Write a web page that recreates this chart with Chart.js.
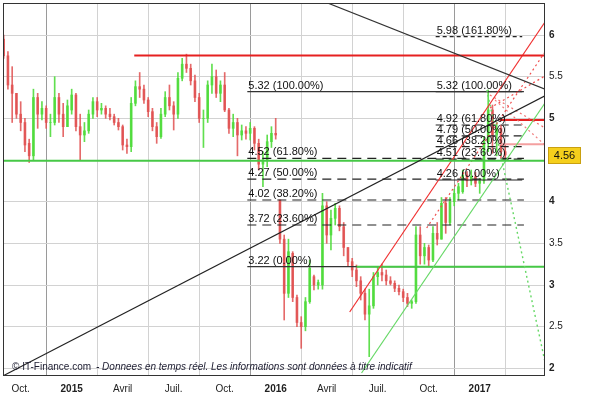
<!DOCTYPE html>
<html>
<head>
<meta charset="utf-8">
<script src="https://cdn.jsdelivr.net/npm/chart.js@4.4.1/dist/chart.umd.min.js"></script>
<style>
html, body { margin: 0; padding: 0; background: #fff; }
#wrap { width: 611px; height: 398px; }
</style>
</head>
<body>
<div id="wrap"><canvas id="chart" width="611" height="398"></canvas></div>
<script>
// x axis is in months counted from Jan 2014 (Oct 2014 = 9, Jan 2017 = 36)
const quarterTicks = [9, 12, 15, 18, 21, 24, 27, 30, 33, 36, 39];
const quarterLabels = ['Oct.', '2015', 'Avril', 'Juil.', 'Oct.', '2016', 'Avril', 'Juil.', 'Oct.', '2017', ''];

// weekly candles [open, high, low, close], first one starts at month 8 (Sep 2014)
const weekStart = 8.0;
const weekStep = 0.25;
const candles = [
    [5.95, 6.00, 5.72, 5.75], [5.75, 5.80, 5.35, 5.40], [5.40, 5.62, 4.95, 5.30], [5.30, 5.30, 5.00, 5.05],
    [5.05, 5.20, 4.85, 4.95], [4.95, 5.00, 4.60, 4.68], [4.70, 4.75, 4.47, 4.55], [4.55, 5.35, 4.50, 5.25],
    [5.25, 5.30, 4.88, 5.05], [5.05, 5.20, 4.98, 5.12], [5.12, 5.15, 4.88, 4.95], [4.95, 5.05, 4.78, 4.95],
    [4.95, 5.50, 4.92, 5.25], [5.25, 5.30, 4.95, 5.05], [5.05, 5.18, 4.78, 4.90], [4.90, 5.22, 4.90, 5.15],
    [5.10, 5.35, 5.05, 5.28], [5.28, 5.30, 4.85, 4.90], [4.90, 5.05, 4.50, 4.80], [4.80, 4.95, 4.72, 4.85],
    [4.85, 5.10, 4.82, 5.05], [5.05, 5.25, 5.00, 5.20], [5.20, 5.25, 5.02, 5.10], [5.10, 5.18, 5.05, 5.12],
    [5.12, 5.15, 5.00, 5.05], [5.05, 5.12, 4.98, 5.02], [5.02, 5.05, 4.92, 4.95], [4.95, 5.00, 4.86, 4.90],
    [4.90, 4.92, 4.62, 4.68], [4.68, 4.75, 4.58, 4.66], [4.66, 5.25, 4.60, 5.18], [5.18, 5.45, 5.15, 5.38],
    [5.38, 5.55, 5.25, 5.35], [5.35, 5.40, 5.18, 5.22], [5.22, 5.25, 5.02, 5.08], [5.08, 5.12, 4.85, 4.90],
    [4.90, 4.95, 4.70, 4.78], [4.78, 5.12, 4.76, 5.05], [5.05, 5.32, 5.02, 5.25], [5.25, 5.40, 5.10, 5.15],
    [5.15, 5.20, 4.86, 5.05], [5.05, 5.55, 5.00, 5.48], [5.48, 5.72, 5.45, 5.65], [5.65, 5.77, 5.55, 5.60],
    [5.60, 5.65, 5.40, 5.45], [5.45, 5.52, 5.20, 5.25], [5.25, 5.30, 4.95, 5.00], [5.00, 5.10, 4.65, 5.00],
    [5.00, 5.45, 4.95, 5.40], [5.40, 5.65, 5.30, 5.50], [5.50, 5.58, 5.25, 5.30], [5.30, 5.45, 5.20, 5.40],
    [5.40, 5.55, 5.08, 5.10], [5.10, 5.12, 4.82, 4.88], [4.88, 5.05, 4.78, 4.95], [4.95, 5.00, 4.55, 4.80],
    [4.80, 4.92, 4.74, 4.85], [4.85, 4.90, 4.75, 4.82], [4.82, 4.95, 4.74, 4.88], [4.88, 4.90, 4.62, 4.70],
    [4.70, 4.75, 4.38, 4.45], [4.45, 4.60, 4.18, 4.50], [4.50, 4.80, 4.42, 4.72], [4.72, 4.90, 4.65, 4.82],
    [4.82, 5.00, 4.75, 4.80], [4.02, 4.02, 3.50, 3.55], [3.55, 3.60, 2.58, 2.90], [2.90, 3.55, 2.85, 3.40],
    [3.38, 3.40, 2.80, 2.85], [2.85, 2.88, 2.50, 2.55], [2.55, 2.62, 2.24, 2.50], [2.50, 2.85, 2.45, 2.80],
    [2.80, 3.30, 2.78, 3.20], [3.10, 3.12, 2.94, 3.00], [3.00, 3.06, 2.95, 3.03], [3.00, 4.10, 2.95, 3.95],
    [3.95, 4.00, 3.50, 3.60], [3.60, 3.90, 3.42, 3.80], [3.80, 3.98, 3.72, 3.92], [3.92, 3.95, 3.65, 3.70],
    [3.70, 3.75, 3.35, 3.45], [3.45, 3.45, 3.22, 3.28], [3.28, 3.32, 3.10, 3.18], [3.18, 3.24, 2.98, 3.05],
    [3.05, 3.10, 2.82, 2.90], [2.90, 2.95, 2.58, 2.65], [2.65, 2.95, 2.14, 2.75], [2.75, 3.15, 2.72, 3.10],
    [3.10, 3.22, 3.00, 3.15], [3.15, 3.25, 3.05, 3.12], [3.12, 3.18, 3.00, 3.05], [3.05, 3.10, 3.00, 3.02],
    [3.02, 3.05, 2.92, 2.96], [2.96, 3.00, 2.88, 2.92], [2.92, 2.95, 2.80, 2.85], [2.85, 2.90, 2.74, 2.78],
    [2.78, 2.82, 2.72, 2.80], [2.80, 3.70, 2.78, 3.60], [3.60, 3.70, 3.25, 3.35], [3.35, 3.50, 3.25, 3.45],
    [3.45, 3.48, 3.22, 3.30], [3.30, 3.70, 3.28, 3.62], [3.62, 3.75, 3.48, 3.55], [3.55, 4.05, 3.55, 3.98],
    [3.98, 4.05, 3.62, 3.75], [3.75, 4.05, 3.72, 4.00], [4.00, 4.15, 3.95, 4.10], [4.10, 4.22, 4.02, 4.18],
    [4.12, 4.38, 4.10, 4.32], [4.32, 4.36, 4.18, 4.25], [4.25, 4.38, 4.20, 4.30], [4.30, 4.35, 4.18, 4.22],
    [4.22, 4.28, 4.10, 4.25], [4.25, 4.78, 4.22, 4.72], [4.72, 5.34, 4.60, 5.10], [5.10, 5.16, 4.58, 4.80],
    [4.80, 4.95, 4.55, 4.88], [4.88, 4.92, 4.52, 4.60], [4.60, 4.68, 4.52, 4.56]
];
const lastPrice = 4.56;

// fibonacci retracements
const fibLeftLevels = [5.32, 4.52, 4.27, 4.02, 3.72, 3.22];
const fibLeftPct = ['100.00%', '61.80%', '50.00%', '38.20%', '23.60%', '0.00%'];
const fibLeftSpan = [22.33, 38.6];
const fibRightLevels = [5.98, 5.32, 4.92, 4.79, 4.66, 4.51, 4.26];
const fibRightPct = ['161.80%', '100.00%', '61.80%', '50.00%', '38.20%', '23.60%', '0.00%'];
const fibRightSpan = [33.41, 38.5];

// drawn lines, endpoints as [month, price]
const supportLine = [[7.96, 4.49], [39.84, 4.49]];
const resistanceLine = [[15.68, 5.754], [39.84, 5.754]];
const support2Line = [[28.76, 3.22], [39.84, 3.22]];
const blackUpLine = [[7.96, 1.91], [39.84, 5.27]];
const blackDownLine = [[27.05, 6.384], [39.84, 5.35]];
const redChannel = [[28.35, 2.676], [39.84, 6.156]];
const redChannelDotted = [[32.88, 3.684], [39.84, 5.796]];
const redFanUp = [[36.6, 5.124], [39.84, 5.508]];
const redFanDown1 = [[36.6, 5.28], [39.84, 4.884]];
const redFanDown2 = [[36.9, 5.22], [39.84, 4.68]];
const greenChannel = [[29.05, 1.944], [39.84, 5.184]];
const greenDotted = [[36.42, 5.34], [39.84, 2.076]];
const redLevel = [[37.18, 4.98], [39.84, 4.98]];
const pinkLevel = [[37.18, 4.69], [39.84, 4.69]];

const RED = 'rgba(224, 80, 80, 0.85)';
const GREEN = 'rgba(80, 220, 60, 0.9)';
const FONT = '"Liberation Sans", Arial, sans-serif';

function seg(points, color, width, dash, order) {
    return {
        type: 'line',
        data: points.map(p => ({ x: p[0], y: p[1] })),
        borderColor: color,
        borderWidth: width,
        borderDash: dash || [],
        pointRadius: 0,
        tension: 0,
        fill: false,
        order: order || 1
    };
}

const candleColor = candles.map(c => c[3] >= c[0] ? GREEN : RED);

const datasets = [
    {
        type: 'bar',
        data: candles.map((c, i) => ({ x: weekStart + i * weekStep, y: [c[2], c[1]] })),
        backgroundColor: candleColor,
        barThickness: 1,
        grouped: false,
        order: 20
    },
    {
        type: 'bar',
        data: candles.map((c, i) => ({ x: weekStart + i * weekStep, y: [c[0], c[3]] })),
        backgroundColor: candleColor,
        barThickness: 2,
        grouped: false,
        order: 19
    },
    seg(blackUpLine, '#222', 1.2),
    seg(blackDownLine, '#333', 1.2),
    seg(supportLine, '#46c846', 2),
    seg(resistanceLine, '#e62020', 2),
    seg(redChannel, '#f03030', 1.2),
    seg(redChannelDotted, '#f05050', 1.2, [2, 3]),
    seg(redFanUp, '#f05050', 1.2, [2, 3]),
    seg(redFanDown1, '#f07070', 1.2, [2, 3]),
    seg(redFanDown2, '#f08080', 1.2, [2, 3]),
    seg(greenChannel, '#66d866', 1.2),
    seg(greenDotted, '#66d866', 1.4, [2, 3]),
    seg(redLevel, '#e62020', 2),
    seg(pinkLevel, '#f4a0a0', 2)
];

fibLeftLevels.forEach((lv, i) => {
    const solid = i === 0 || i === fibLeftLevels.length - 1;
    datasets.push(seg([[fibLeftSpan[0], lv], [fibLeftSpan[1], lv]], solid ? '#333' : '#222', 1.2, solid ? [] : [9, 6], 2));
});
fibRightLevels.forEach((lv, i) => {
    const solid = i === 1 || i === fibRightLevels.length - 1;
    datasets.push(seg([[fibRightSpan[0], lv], [fibRightSpan[1], lv]], '#222', 1.2, solid ? [] : [i === 0 ? 4 : 8, i === 0 ? 3 : 5], 2));
});
// the green 3.22 support is drawn above the fib 0% line
datasets.push(seg(support2Line, '#46c846', 2, [], 0));

const overlay = {
    id: 'overlay',
    afterDatasetsDraw(chart) {
        const ctx = chart.ctx;
        const xs = chart.scales.x, ys = chart.scales.y;
        const area = chart.chartArea;
        ctx.save();
        ctx.beginPath();
        ctx.rect(area.left, area.top, area.right - area.left, area.bottom - area.top);
        ctx.clip();
        ctx.fillStyle = '#111';
        ctx.font = '11px ' + FONT;
        ctx.textBaseline = 'alphabetic';
        fibLeftLevels.forEach((lv, i) => {
            ctx.fillText(lv.toFixed(2) + ' (' + fibLeftPct[i] + ')', xs.getPixelForValue(fibLeftSpan[0]) + 1, ys.getPixelForValue(lv) - 3);
        });
        fibRightLevels.forEach((lv, i) => {
            ctx.fillText(lv.toFixed(2) + ' (' + fibRightPct[i] + ')', xs.getPixelForValue(fibRightSpan[0]) + 1, ys.getPixelForValue(lv) - 3);
        });
        // watermark
        ctx.fillStyle = '#1c1c30';
        ctx.font = '10px ' + FONT;
        ctx.fillText('\u00a9 IT-Finance.com', area.left + 9, area.bottom - 6);
        ctx.font = 'italic 10px ' + FONT;
        ctx.fillText('- Donnees en temps r\u00e9el. Les informations sont donn\u00e9es \u00e0 titre indicatif', area.left + 93, area.bottom - 6);
        ctx.restore();
    },
    afterDraw(chart) {
        const ctx = chart.ctx;
        const area = chart.chartArea;
        ctx.save();
        ctx.strokeStyle = '#333';
        ctx.lineWidth = 1;
        ctx.strokeRect(area.left + 0.5, area.top + 0.5, area.right - area.left - 1, area.bottom - area.top - 1);
        // last price tag
        const y = chart.scales.y.getPixelForValue(lastPrice);
        ctx.fillStyle = '#f5cf1c';
        ctx.strokeStyle = '#c9a010';
        ctx.fillRect(area.right + 3, y - 8, 33, 17);
        ctx.strokeRect(area.right + 3.5, y - 7.5, 32, 16);
        ctx.fillStyle = '#111';
        ctx.font = '11px ' + FONT;
        ctx.textAlign = 'center';
        ctx.textBaseline = 'middle';
        ctx.fillText(lastPrice.toFixed(2), area.right + 19.5, y + 1);
        ctx.restore();
    }
};

new Chart(document.getElementById('chart'), {
    type: 'bar',
    data: { datasets: datasets },
    options: {
        responsive: false,
        animation: false,
        events: [],
        layout: { padding: { left: 3, top: 3, right: 0, bottom: 0 } },
        plugins: { legend: { display: false }, tooltip: { enabled: false } },
        scales: {
            x: {
                type: 'linear',
                min: 7.96,
                max: 39.84,
                offset: false,
                afterBuildTicks: scale => { scale.ticks = quarterTicks.map(v => ({ value: v })); },
                afterFit: scale => { scale.height = 22; scale.paddingLeft = 0; scale.paddingRight = 0; },
                grid: {
                    drawTicks: false,
                    color: c => (c.tick && c.tick.value % 12 === 0) ? '#9a9a9a' : '#d2d2d2'
                },
                border: { display: false },
                ticks: {
                    autoSkip: false,
                    maxRotation: 0,
                    padding: 7,
                    color: '#222',
                    font: c => ({ family: FONT, size: 10, weight: (c.tick && c.tick.value % 12 === 0) ? 'bold' : 'normal' }),
                    callback: v => quarterLabels[quarterTicks.indexOf(v)]
                }
            },
            y: {
                position: 'right',
                min: 1.908,
                max: 6.384,
                afterFit: scale => { scale.width = 66; scale.paddingTop = 0; scale.paddingBottom = 0; },
                grid: { drawTicks: false, color: '#d2d2d2' },
                border: { display: false },
                ticks: {
                    stepSize: 0.5,
                    includeBounds: false,
                    padding: 4,
                    color: '#222',
                    font: c => ({ family: FONT, size: 10, weight: (c.tick && c.tick.value % 1 === 0) ? 'bold' : 'normal' }),
                    callback: v => String(v)
                }
            }
        }
    },
    plugins: [overlay]
});
</script>
</body>
</html>
